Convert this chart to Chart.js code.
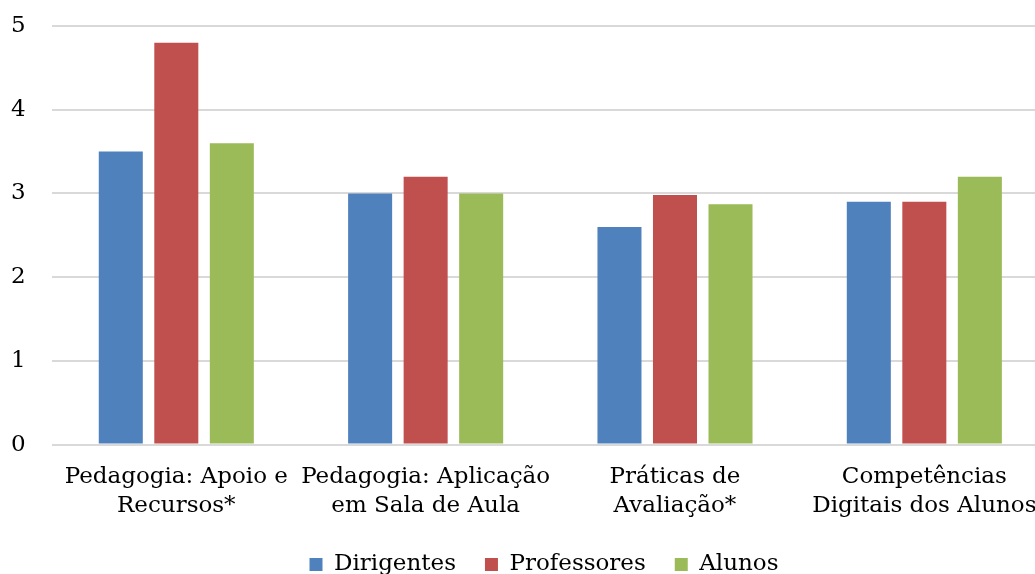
<!DOCTYPE html>
<html>
<head>
<meta charset="utf-8">
<script src="https://cdn.jsdelivr.net/npm/chart.js@4.4.0/dist/chart.umd.min.js"></script>
<style>
html,body{margin:0;padding:0;background:#fff;overflow:hidden;}
#wrap{width:1035px;height:574px;position:relative;overflow:hidden;}
</style>
</head>
<body>
<div id="wrap"><canvas id="c" width="1049" height="574"></canvas></div>
<script>
const categories = [
  ["Pedagogia: Apoio e", "Recursos*"],
  ["Pedagogia: Aplicação", "em Sala de Aula"],
  ["Práticas de", "Avaliação*"],
  ["Competências", "Digitais dos Alunos"]
];
const seriesNames = ["Dirigentes", "Professores", "Alunos"];
const dirigentes = [3.5, 3.0, 2.6, 2.9];
const professores = [4.8, 3.2, 2.98, 2.9];
const alunos = [3.6, 3.0, 2.87, 3.2];
const colors = ["#4F81BD", "#C0504D", "#9BBB59"];
const yTicks = [0, 1, 2, 3, 4, 5];

const FONT = "'DejaVu Serif', serif";
const values = [dirigentes, professores, alunos];

const legendShift = {
  id: 'legendShift',
  afterLayout(chart) {
    if (chart.legend) { chart.legend.left += 27; chart.legend.right += 27; }
  }
};

new Chart(document.getElementById('c'), {
  type: 'bar',
  data: {
    labels: categories,
    datasets: seriesNames.map((n, i) => ({
      label: n,
      data: values[i],
      backgroundColor: colors[i],
      borderWidth: 0,
      barPercentage: 0.793,
      categoryPercentage: 0.668
    }))
  },
  plugins: [legendShift],
  options: {
    responsive: false,
    animation: false,
    layout: { padding: { left: -15, right: 0, top: 26, bottom: -12 } },
    plugins: {
      tooltip: { enabled: false },
      legend: {
        position: 'bottom',
        labels: {
          boxWidth: 13,
          boxHeight: 13,
          padding: 29,
          color: '#000',
          font: { family: FONT, size: 23 }
        }
      }
    },
    scales: {
      x: {
        grid: { display: false, drawTicks: false },
        border: { display: false },
        afterFit: (s) => { s.height -= 15; s.paddingLeft = 0; s.paddingRight = 0; },
        ticks: {
          color: '#000',
          font: { family: FONT, size: 23, lineHeight: 1.27 },
          padding: 18,
          maxRotation: 0,
          autoSkip: false
        }
      },
      y: {
        min: 0,
        max: 5,
        afterBuildTicks: (s) => { s.ticks = yTicks.map(v => ({ value: v })); },
        afterFit: (s) => { s.paddingTop = 0; s.paddingBottom = 0; },
        grid: { color: '#D9D9D9', lineWidth: 2, drawTicks: false },
        border: { display: false },
        ticks: {
          color: '#000',
          font: { family: FONT, size: 23 },
          padding: 26
        }
      }
    }
  }
});
</script>
</body>
</html>
